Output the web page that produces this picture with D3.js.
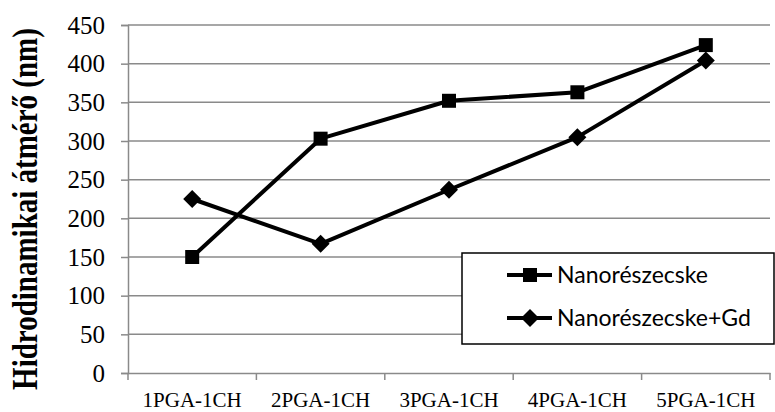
<!DOCTYPE html>
<html>
<head>
<meta charset="utf-8">
<script src="https://cdn.jsdelivr.net/npm/d3@7"></script>
<style>
  html, body { margin: 0; padding: 0; background: #fff; }
  svg { display: block; }
  .serif { font-family: 'Liberation Serif', 'Times New Roman', serif; }
</style>
</head>
<body>
<svg id="chart" width="775" height="412"></svg>
<script>
const categories = ["1PGA-1CH", "2PGA-1CH", "3PGA-1CH", "4PGA-1CH", "5PGA-1CH"];
const seriesNames = ["Nanorészecske", "Nanorészecske+Gd"];
const nano = [150, 303, 352, 363, 424];
const nanoGd = [225, 167, 237, 305, 404];
const yTicks = [0, 50, 100, 150, 200, 250, 300, 350, 400, 450];
const yTitle = "Hidrodinamikai átmérő (nm)";

const svg = d3.select("#chart");
const margin = { left: 128, right: 5, top: 25, bottom: 39 };
const W = 775, H = 412;
const x = d3.scaleBand().domain(categories).range([margin.left, W - margin.right]);
const y = d3.scaleLinear().domain([0, 450]).range([H - margin.bottom, margin.top]);
const gridColor = "#8a8a8a";
const serif = "'Liberation Serif', 'Times New Roman', serif";

// gridlines
svg.append("g").selectAll("line").data(yTicks.filter(d => d > 0)).join("line")
  .attr("x1", margin.left).attr("x2", W - margin.right)
  .attr("y1", d => y(d)).attr("y2", d => y(d))
  .attr("stroke", gridColor).attr("stroke-width", 1.5);

// y axis
const yAxis = svg.append("g").attr("transform", `translate(${margin.left},0)`)
  .call(d3.axisLeft(y).tickValues(yTicks).tickSize(7).tickPadding(16));
yAxis.attr("font-family", null);
yAxis.select(".domain").attr("stroke", gridColor).attr("stroke-width", 1.5);
yAxis.selectAll(".tick line").attr("stroke", gridColor).attr("stroke-width", 1.5);
yAxis.selectAll(".tick text").attr("class", "serif")
  .style("font-family", serif).style("font-size", "25px").attr("fill", "#000");

// x axis
const xAxis = svg.append("g").attr("transform", `translate(0,${y(0)})`)
  .call(d3.axisBottom(x).tickSize(0).tickPadding(19));
xAxis.attr("font-family", null);
xAxis.select(".domain").attr("stroke", gridColor).attr("stroke-width", 1.5);
xAxis.selectAll(".tick text").attr("class", "serif")
  .style("font-family", serif).style("font-size", "21px").attr("fill", "#000");
// boundary ticks
const bounds = categories.map(c => x(c)).concat([x.range()[1]]);
svg.append("g").selectAll("line").data(bounds).join("line")
  .attr("x1", d => d).attr("x2", d => d)
  .attr("y1", y(0)).attr("y2", y(0) + 7)
  .attr("stroke", gridColor).attr("stroke-width", 1.5);

// y title
svg.append("text")
  .attr("transform", `translate(37,${(20 + 398) / 2}) rotate(-90) scale(1,1.25)`)
  .attr("text-anchor", "middle")
  .style("font-family", serif)
  .attr("font-weight", "bold").attr("font-size", 29)
  .text(yTitle);

const cx = c => x(c) + x.bandwidth() / 2;
const line = d3.line().x((d, i) => cx(categories[i])).y(d => y(d));

const sq = 14, dm = 9;
function drawSquare(g, px, py) {
  g.append("rect").attr("x", px - sq / 2).attr("y", py - sq / 2)
    .attr("width", sq).attr("height", sq).attr("fill", "#000");
}
function drawDiamond(g, px, py) {
  g.append("path")
    .attr("d", `M${px},${py - dm}L${px + dm},${py}L${px},${py + dm}L${px - dm},${py}Z`)
    .attr("fill", "#000");
}

const series = [
  { name: seriesNames[0], values: nano, marker: drawSquare },
  { name: seriesNames[1], values: nanoGd, marker: drawDiamond }
];

series.forEach(s => {
  const g = svg.append("g");
  g.append("path").attr("d", line(s.values)).attr("fill", "none")
    .attr("stroke", "#000").attr("stroke-width", 4).attr("stroke-linejoin", "round");
  s.values.forEach((v, i) => s.marker(g, cx(categories[i]), y(v)));
});

// legend
const lg = svg.append("g");
lg.append("rect").attr("x", 462).attr("y", 253).attr("width", 312).attr("height", 91)
  .attr("fill", "#fff").attr("stroke", "#000").attr("stroke-width", 1.5);
series.forEach((s, i) => {
  const ly = 275 + i * 43;
  lg.append("line").attr("x1", 507).attr("x2", 552).attr("y1", ly).attr("y2", ly)
    .attr("stroke", "#000").attr("stroke-width", 4);
  s.marker(lg, 530, ly);
  lg.append("text").attr("x", 557).attr("y", ly).attr("dy", "0.35em")
    .style("font-family", "Lato, 'Open Sans', sans-serif").attr("font-size", 23)
    .text(s.name);
});
</script>
</body>
</html>
